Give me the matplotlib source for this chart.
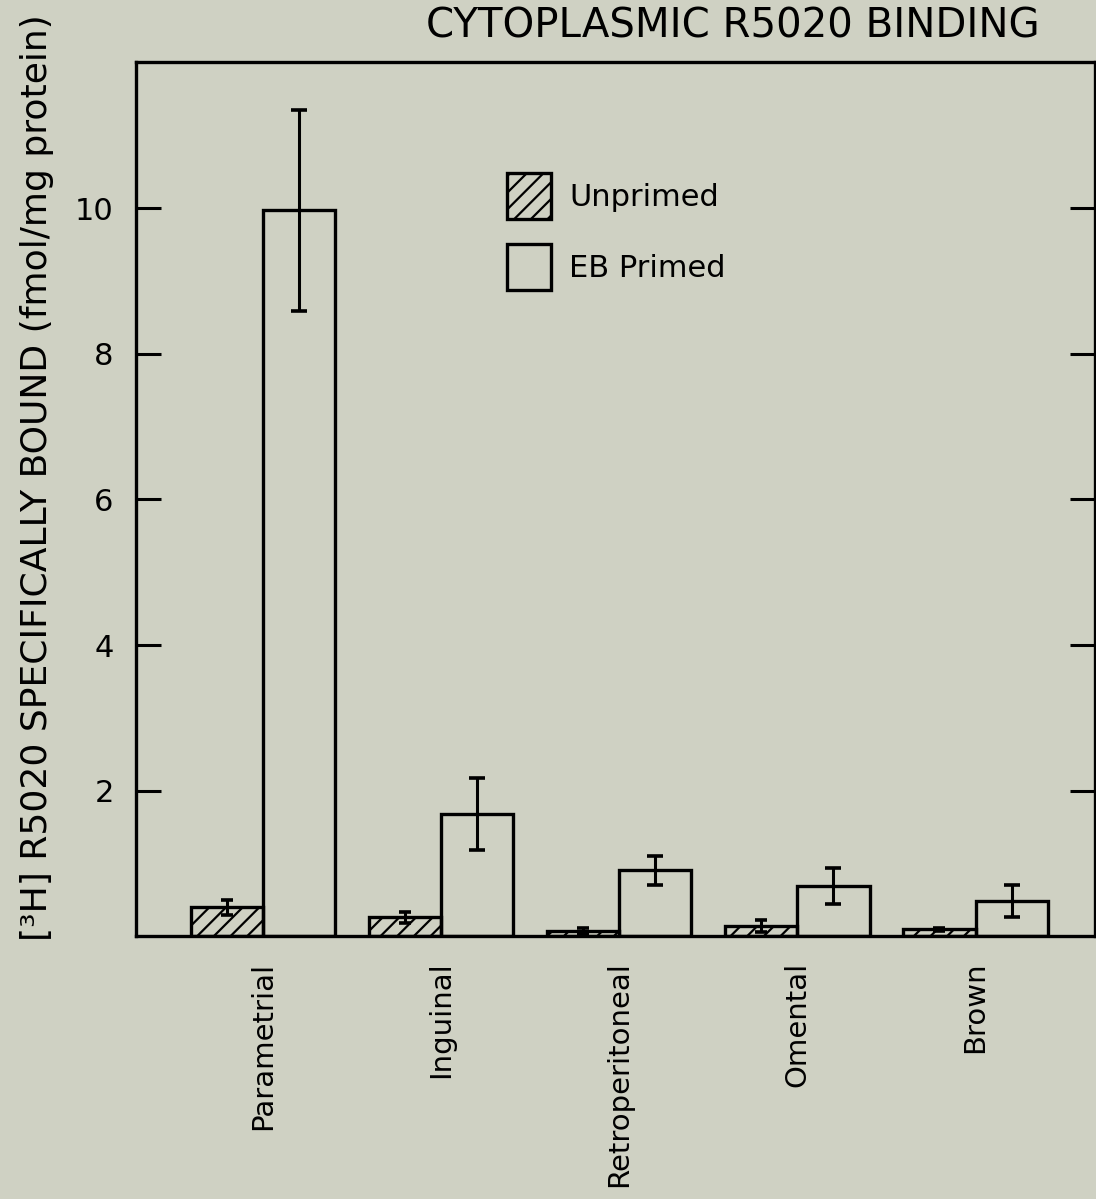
import matplotlib
matplotlib.use("Agg")
import matplotlib.pyplot as plt
import numpy as np

tissues = ["Parametrial", "Inguinal", "Retroperitoneal", "Omental", "Brown"]
unprimed = [0.40, 0.26, 0.07, 0.14, 0.10]
unprimed_err = [0.10, 0.08, 0.04, 0.08, 0.02]
primed = [9.97, 1.68, 0.91, 0.69, 0.48]
primed_err = [1.38, 0.50, 0.20, 0.25, 0.22]
yticks = [2, 4, 6, 8, 10]

bg = "#cfd1c3"
plt.rcParams["hatch.linewidth"] = 1.6
plt.rcParams["font.family"] = ["DejaVu Sans"]

fig = plt.figure(figsize=(10.96, 11.99), dpi=100, facecolor=bg)
ax = fig.add_axes([0.124, 0.219, 0.875, 0.729])
ax.set_facecolor(bg)

x = np.arange(len(tissues))
w = 0.405
b1 = ax.bar(x - w / 2, unprimed, w, facecolor="none", edgecolor="black",
            linewidth=2.4, hatch="//", label="Unprimed")
b2 = ax.bar(x + w / 2, primed, w, facecolor="none", edgecolor="black",
            linewidth=2.4, label="EB Primed")
ax.errorbar(x - w / 2, unprimed, yerr=unprimed_err, fmt="none", ecolor="black",
            elinewidth=2.2, capsize=4.5, capthick=2.6)
ax.errorbar(x + w / 2, primed, yerr=primed_err, fmt="none", ecolor="black",
            elinewidth=2.2, capsize=5.5, capthick=2.6)

ax.set_xlim(-0.713, 4.67)
ax.set_ylim(0, 12)
ax.set_yticks(yticks)
ax.set_yticklabels([str(v) for v in yticks], fontsize=22)
ax.set_xticks(x)
ax.set_xticklabels(tissues, rotation=90, fontsize=21)
ax.tick_params(axis="x", length=0, pad=18)
ax.tick_params(axis="y", direction="in", length=18, width=2.2, pad=16,
               right=True)
for s in ax.spines.values():
    s.set_linewidth(2.4)

ax.legend(handles=[b1, b2], loc="upper left", bbox_to_anchor=(0.358, 0.905),
          frameon=False, fontsize=22, handlelength=1.45, handleheight=1.95,
          handletextpad=0.6, labelspacing=0.82)

fig.text(0.034, 1 - 478 / 1199, "[³H] R5020 SPECIFICALLY BOUND (fmol/mg protein)",
         rotation=90, ha="center", va="center", fontsize=26)
fig.text(1040 / 1096, 1 - 37 / 1199, "CYTOPLASMIC R5020 BINDING",
         ha="right", va="baseline", fontsize=29)

fig.savefig("out.png", dpi=100, facecolor=bg)
